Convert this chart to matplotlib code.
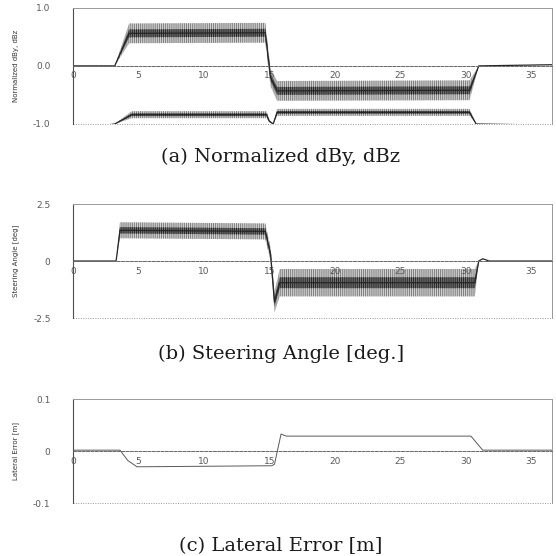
import matplotlib
matplotlib.use('Agg')
import matplotlib.pyplot as plt

plt.rcParams['hatch.linewidth'] = 0.6

# time axis ticks (s)
x_ticks = [0, 5, 10, 15, 20, 25, 30, 35]

# (a) normalized dBy (upper) and dBz (lower): centre and noise half-width
dby_t = [0, 3.2, 4.3, 14.7, 15.1, 15.6, 30.3, 31.0, 36.6]
dby_y = [0, 0, 0.56, 0.57, -0.2, -0.43, -0.42, 0.0, 0.02]
dby_w = [0, 0, 0.17, 0.17, 0.15, 0.17, 0.17, 0, 0]

dbz_t = [0, 3.2, 4.5, 14.8, 15.0, 15.3, 15.6, 30.3, 30.8, 36.6]
dbz_y = [-1.1, -1.0, -0.84, -0.84, -0.95, -1.0, -0.8, -0.8, -1.0, -1.02]
dbz_w = [0, 0, 0.06, 0.06, 0.02, 0, 0.06, 0.06, 0, 0]

# (b) steering angle [deg]
steer_t = [0, 3.3, 3.35, 3.6, 14.7, 15.1, 15.4, 15.8, 30.7, 31.0, 31.3, 31.8, 36.6]
steer_y = [0, 0, 0.2, 1.35, 1.3, 0.3, -1.8, -0.95, -0.95, 0, 0.1, 0, 0]
steer_w = [0, 0, 0, 0.35, 0.35, 0.3, 0.45, 0.6, 0.6, 0, 0, 0, 0]

# (c) lateral error [m]
lat_t = [0, 3.6, 4.2, 4.9, 15.2, 15.4, 15.9, 16.3, 30.4, 31.3, 36.6]
lat_y = [0.002, 0.002, -0.018, -0.03, -0.028, -0.025, 0.033, 0.029, 0.029, 0.002, 0.002]

ylabels = ['Normalized dBy, dBz', 'Steering Angle [deg]', 'Lateral Error [m]']
ytick_vals = [[1.0, 0.0, -1.0], [2.5, 0, -2.5], [0.1, 0, -0.1]]
ytick_text = [['1.0', '0.0', '-1.0'], ['2.5', '0', '-2.5'], ['0.1', '0', '-0.1']]
captions = ['(a) Normalized dBy, dBz', '(b) Steering Angle [deg.]', '(c) Lateral Error [m]']

fig = plt.figure(figsize=(5.56, 5.56), dpi=100)
boxes = [[0.131, 0.777, 0.862, 0.209],
         [0.131, 0.428, 0.862, 0.205],
         [0.131, 0.095, 0.862, 0.187]]
cap_y = [0.718, 0.364, 0.018]

axes = [fig.add_axes(b) for b in boxes]


def noisy(ax, t, y, w):
    lo = [a - b for a, b in zip(y, w)]
    hi = [a + b for a, b in zip(y, w)]
    ax.fill_between(t, lo, hi, facecolor='0.82', edgecolor='0.45', hatch='||||||||', linewidth=0)
    lo2 = [a - 0.4 * b for a, b in zip(y, w)]
    hi2 = [a + 0.4 * b for a, b in zip(y, w)]
    ax.fill_between(t, lo2, hi2, facecolor='0.45', edgecolor='0.1', hatch='||||||||', linewidth=0)
    ax.plot(t, y, color='0.15', lw=0.9)


noisy(axes[0], dby_t, dby_y, dby_w)
noisy(axes[0], dbz_t, dbz_y, dbz_w)
noisy(axes[1], steer_t, steer_y, steer_w)
axes[2].plot(lat_t, lat_y, color='0.35', lw=0.7)

for i, ax in enumerate(axes):
    ax.set_xlim(0, 36.6)
    lim = ytick_vals[i][0]
    ax.set_ylim(-lim, lim)
    ax.spines['bottom'].set_position(('data', 0))
    ax.spines['bottom'].set_linestyle((0, (3, 1.5)))
    ax.spines['bottom'].set_color('0.4')
    ax.spines['bottom'].set_linewidth(0.7)
    for s in ['top', 'right']:
        ax.spines[s].set_linestyle((0, (1, 1)))
        ax.spines[s].set_color('0.6')
        ax.spines[s].set_linewidth(0.7)
    ax.spines['left'].set_color('0.3')
    ax.spines['left'].set_linewidth(0.8)
    ax.axhline(-lim, color='0.6', lw=0.7, ls=(0, (1, 1.5)), clip_on=False)
    ax.set_xticks(x_ticks)
    ax.set_xticklabels([str(v) for v in x_ticks])
    ax.set_yticks(ytick_vals[i])
    ax.set_yticklabels(ytick_text[i])
    ax.tick_params(axis='both', length=0, labelsize=6.5, labelcolor='0.35')
    ax.tick_params(axis='x', pad=4)
    ax.tick_params(axis='y', pad=16)
    ax.set_ylabel(ylabels[i], fontsize=5, color='0.2', labelpad=10)
    fig.text(0.505, cap_y[i], captions[i], ha='center', va='center',
             family='DejaVu Serif', fontsize=14, color='0.1')

fig.savefig('out.png', dpi=100)
